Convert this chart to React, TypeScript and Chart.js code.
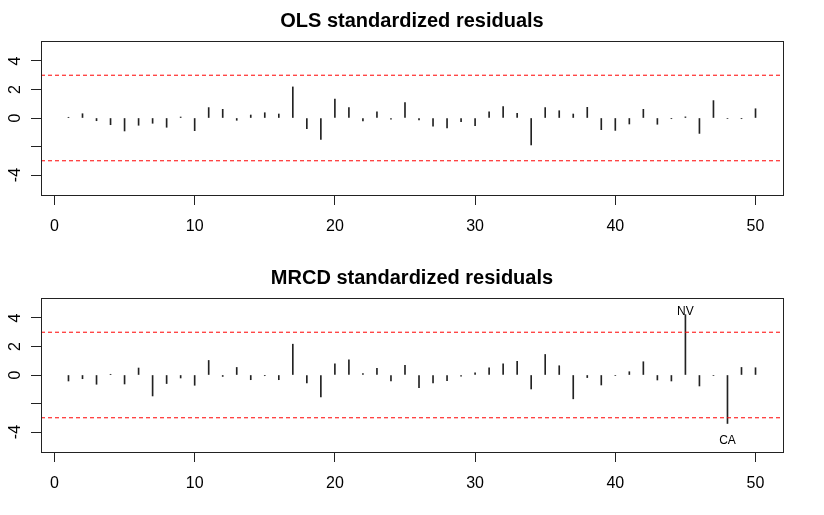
import React, { useEffect, useRef } from "react";
import { Chart, registerables } from "chart.js";

Chart.register(...registerables);

const obsIndex = Array.from({ length: 50 }, (_, i) => i + 1);

const olsResiduals = [
  0.05, 0.3, -0.19, -0.47, -0.91, -0.51, -0.37, -0.65, 0.07, -0.89,
  0.73, 0.61, -0.16, 0.21, 0.37, 0.28, 2.18, -0.75, -1.5, 1.33,
  0.73, -0.21, 0.44, -0.09, 1.08, -0.14, -0.58, -0.7, -0.25, -0.54,
  0.44, 0.8, 0.33, -1.89, 0.73, 0.51, 0.28, 0.75, -0.82, -0.87,
  -0.42, 0.61, -0.44, -0.05, 0.08, -1.08, 1.22, -0.03, -0.05, 0.65,
];

const mrcdResiduals = [
  -0.42, -0.26, -0.65, 0.05, -0.63, 0.49, -1.47, -0.6, -0.21, -0.72,
  1.02, -0.1, 0.53, -0.33, -0.05, -0.33, 2.16, -0.56, -1.53, 0.79,
  1.07, 0.1, 0.47, -0.42, 0.67, -0.88, -0.56, -0.4, -0.08, 0.16,
  0.51, 0.79, 0.95, -0.98, 1.44, 0.65, -1.67, -0.18, -0.7, -0.03,
  0.23, 0.93, -0.35, -0.42, 4.23, -0.77, -0.03, -3.4, 0.53, 0.51,
];

const mrcdOutlierIdx = [45, 48];
const mrcdOutlierText = ["NV", "CA"];
const mrcdOutlierLabelY = [4.42, -4.6];

const olsOutlierIdx: number[] = [];
const olsOutlierText: string[] = [];
const olsOutlierLabelY: number[] = [];

const cutoff = 3;
const xTicks = [0, 10, 20, 30, 40, 50];
const yTicks = [-4, -2, 0, 2, 4];
const yTickLabels = ["-4", "", "0", "2", "4"];
const xRange = [-0.96, 51.96];
const yRange = [-5.4, 5.4];

const FONT = '"Liberation Sans", Arial, Helvetica, sans-serif';

type PanelProps = {
  title: string;
  values: number[];
  labelIdx: number[];
  labelText: string[];
  labelY: number[];
};

function Panel({ title, values, labelIdx, labelText, labelY }: PanelProps) {
  const ref = useRef<HTMLCanvasElement | null>(null);

  useEffect(() => {
    if (!ref.current) return;
    const decor = {
      id: "rdecor",
      afterDraw(chart: any) {
        const { ctx, chartArea } = chart;
        const xs = chart.scales.x;
        const ys = chart.scales.y;
        ctx.save();
        ctx.strokeStyle = "#222";
        ctx.lineWidth = 1;
        ctx.setLineDash([]);
        ctx.strokeRect(
          Math.round(chartArea.left) + 0.5,
          Math.round(chartArea.top) + 0.5,
          Math.round(chartArea.right - chartArea.left),
          Math.round(chartArea.bottom - chartArea.top)
        );
        ctx.fillStyle = "#000";
        ctx.font = `bold 20px ${FONT}`;
        ctx.textAlign = "center";
        ctx.textBaseline = "middle";
        ctx.fillText(title, (chartArea.left + chartArea.right) / 2, 21);
        ctx.font = `16px ${FONT}`;
        yTicks.forEach((v, i) => {
          const lab = yTickLabels[i];
          if (!lab) return;
          const y = ys.getPixelForValue(v);
          ctx.save();
          ctx.translate(chartArea.left - 21, y);
          ctx.rotate(-Math.PI / 2);
          ctx.textAlign = "center";
          ctx.textBaseline = "alphabetic";
          ctx.fillText(lab, 0, 0);
          ctx.restore();
        });
        ctx.font = `12px ${FONT}`;
        ctx.textAlign = "center";
        ctx.textBaseline = "middle";
        labelIdx.forEach((idx, i) => {
          ctx.fillText(labelText[i], xs.getPixelForValue(idx), ys.getPixelForValue(labelY[i]));
        });
        ctx.restore();
      },
    };

    const cutoffLine = (c: number) => ({
      type: "line",
      data: [
        { x: xRange[0], y: c },
        { x: xRange[1], y: c },
      ],
      borderColor: "rgb(255,0,0)",
      borderWidth: 1,
      borderDash: [4, 3],
      pointRadius: 0,
      fill: false,
      order: 0,
    });

    const chart = new Chart(ref.current, {
      type: "bar",
      data: {
        datasets: [
          {
            type: "bar",
            data: values.map((v, i) => ({ x: obsIndex[i], y: v })),
            backgroundColor: "#222",
            borderWidth: 0,
            barThickness: 1,
            order: 1,
          },
          cutoffLine(cutoff),
          cutoffLine(-cutoff),
        ],
      },
      options: {
        responsive: false,
        animation: false,
        devicePixelRatio: 1,
        layout: { padding: { top: 41, right: 41, left: 0, bottom: 0 } },
        plugins: {
          legend: { display: false },
          tooltip: { enabled: false },
          title: { display: false },
        },
        scales: {
          x: {
            type: "linear",
            min: xRange[0],
            max: xRange[1],
            offset: false,
            afterBuildTicks: (s: any) => {
              s.ticks = xTicks.map((v) => ({ value: v }));
            },
            afterFit: (s: any) => {
              s.height = 62;
            },
            grid: {
              offset: false,
              drawOnChartArea: false,
              drawTicks: true,
              tickLength: 10,
              color: "#222",
              lineWidth: 1,
            },
            border: { display: false },
            ticks: {
              autoSkip: false,
              maxRotation: 0,
              color: "#000",
              padding: 12,
              font: { family: FONT, size: 16 },
              callback: (v: any) => String(v),
            },
          },
          y: {
            type: "linear",
            min: yRange[0],
            max: yRange[1],
            afterBuildTicks: (s: any) => {
              s.ticks = yTicks.map((v) => ({ value: v }));
            },
            afterFit: (s: any) => {
              s.width = 41;
            },
            grid: {
              drawOnChartArea: false,
              drawTicks: true,
              tickLength: 10,
              color: "#222",
              lineWidth: 1,
            },
            border: { display: false },
            ticks: { display: false },
          },
        },
      },
      plugins: [decor],
    } as any);
    return () => chart.destroy();
  }, [title, values, labelIdx, labelText, labelY]);

  return <canvas ref={ref} width={824} height={257} style={{ display: "block", width: 824, height: 257 }} />;
}

export default function App() {
  return (
    <div style={{ position: "absolute", left: 0, top: 0, width: 824, height: 515, background: "#fff" }}>
      <Panel
        title="OLS standardized residuals"
        values={olsResiduals}
        labelIdx={olsOutlierIdx}
        labelText={olsOutlierText}
        labelY={olsOutlierLabelY}
      />
      <Panel
        title="MRCD standardized residuals"
        values={mrcdResiduals}
        labelIdx={mrcdOutlierIdx}
        labelText={mrcdOutlierText}
        labelY={mrcdOutlierLabelY}
      />
    </div>
  );
}
